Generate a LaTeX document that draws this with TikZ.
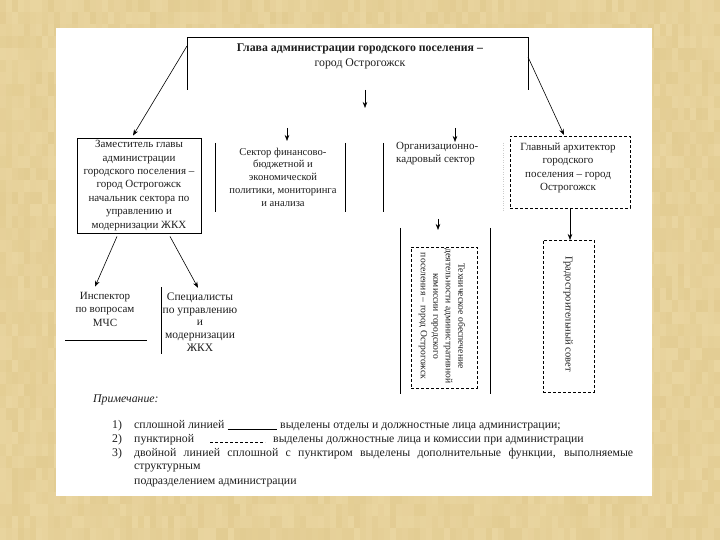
\documentclass[tikz,border=0pt]{standalone}
\usepackage{fontspec}
\setmainfont{Liberation Serif}
\usetikzlibrary{arrows.meta,calc}
\definecolor{bgtan}{RGB}{233,213,160}
\definecolor{bgdark}{RGB}{218,192,128}
\definecolor{inkc}{RGB}{30,30,30}
\tikzset{
  frame/.style={draw=black, line width=0.9pt},
  dframe/.style={draw=black, line width=0.7pt, dash pattern=on 3pt off 2pt},
  arr/.style={draw=black, line width=0.6pt, -{Stealth[length=6pt,width=4.5pt]}},
  lbl/.style={font=\fontsize{11}{13.5}\selectfont, align=center, inner sep=0pt, text=inkc},
  rlbl/.style={font=\fontsize{10}{12.5}\selectfont, align=center, inner sep=0pt, text=inkc, rotate=-90},
  note/.style={font=\fontsize{11.8}{13}\selectfont, inner sep=0pt, anchor=base west, text=inkc},
  emptybox/.style={inner sep=0pt, outer sep=0pt}
}
\begin{document}
\begin{tikzpicture}[x=1pt,y=-1pt]
\fill[bgtan] (0,0) rectangle (720,540);
\useasboundingbox (0,0) rectangle (720,540);
\pgfmathsetseed{11}
\foreach \i in {0,...,119}{
  \foreach \j in {0,...,44}{
    \pgfmathsetmacro\rr{int(rnd*45)}
    \fill[bgdark!\rr!bgtan] (\i*6,\j*12) rectangle ++(6,12);
  }
}
\fill[white] (56,28) rectangle (652,496);

% head
\node[emptybox, minimum width=341pt, minimum height=53pt] (head) at (357.5,63.5) {};
\draw[frame] (head.south west) -- (head.north west) -- (head.north east) -- (head.south east);
\node[lbl, font=\fontsize{11.8}{15}\selectfont] (headtxt) at (360,56) {\textbf{Глава администрации городского поселения –}\\город Острогожск};
\coordinate (hsplit) at (365,108);
\draw[arr] (head.south -| hsplit) -- (hsplit);

% deputy
\node[frame, lbl, font=\fontsize{11}{13.4}\selectfont, minimum width=124pt, minimum height=95pt] (dep) at (139,185.5)
  {Заместитель главы\\администрации\\городского поселения –\\город Острогожск\\начальник сектора по\\управлению и\\модернизации ЖКХ};

% sector
\node[emptybox, minimum width=130pt, minimum height=69pt] (sec) at (280,177.5) {};
\draw[frame] (sec.north west) -- (sec.south west);
\draw[frame] (sec.north east) -- (sec.south east);
\node[lbl, font=\fontsize{10.6}{12.8}\selectfont] (sectxt) at (283,177) {Сектор финансово-\\бюджетной и\\экономической\\политики, мониторинга\\и анализа};
\coordinate (secin) at (287,128);
\draw[arr] (secin) -- ($(secin |- sec.north)+(0,-2)$);

% org
\node[emptybox, minimum width=120pt, minimum height=69pt] (org) at (443,177.5) {};
\draw[frame] (org.north west) -- (org.south west);
\draw[black!20, dotted] (org.north east) -- (org.south east);
\node[lbl, align=left, anchor=north west] (orgtxt) at (396,142) {Организационно-\\кадровый сектор};
\coordinate (orgin) at (455,128);
\draw[arr] (orgin) -- ($(orgin |- org.north)+(0,-1)$);

% architect
\node[dframe, emptybox, minimum width=120pt, minimum height=72pt] (arch) at (570,172) {};
\node[lbl] (archtxt) at (568,168) {Главный архитектор\\городского\\поселения – город\\Острогожск};

% arrows from head
\draw[arr] ($(head.north west)+(0,9)$) -- ($(dep.north)+(-6,-2)$);
\draw[arr] ($(head.north east)+(0,20)$) -- ($(arch.north)+(-6,-1)$);

% town planning council
\node[dframe, emptybox, minimum width=51pt, minimum height=152pt] (gs) at (568.5,316) {};
\node[rlbl, font=\fontsize{10.5}{12.5}\selectfont] (gstxt) at (568,314) {Градостроительный совет};
\draw[arr] (arch.south) -- (arch.south |- gs.north);

% middle double
\node[emptybox, minimum width=90pt, minimum height=166pt] (mid) at (445,311) {};
\draw[frame] (mid.north west) -- (mid.south west);
\draw[frame] (mid.north east) -- (mid.south east);
\node[dframe, emptybox, minimum width=66pt, minimum height=141pt] (midin) at (444,317.5) {};
\node[rlbl, font=\fontsize{9.6}{12.5}\selectfont] (midtxt) at (442,316) {Техническое обеспечение\\деятельности административной\\комиссии городского\\поселения – город Острогожск};
\coordinate (midin0) at (438,219);
\draw[arr] (midin0) -- ($(midin0 |- mid.north)+(0,2)$);

% inspector
\node[emptybox, minimum width=82pt, minimum height=44pt] (inspbox) at (106,318) {};
\draw[line width=0.9pt] (inspbox.south west) -- (inspbox.south east);
\node[lbl] (insp) at (105,309) {Инспектор\\по вопросам\\МЧС};

% specialists
\node[emptybox, minimum width=80pt, minimum height=67pt] (spec) at (201,320.5) {};
\draw[frame] (spec.north west) -- (spec.south west);
\node[lbl, font=\fontsize{11.5}{12.6}\selectfont] (spectxt) at (200,322) {Специалисты\\по управлению\\и\\модернизации\\ЖКХ};

\draw[arr] ($(dep.south)+(-22,3)$) -- ($(insp.north)+(-10,-5)$);
\draw[arr] ($(dep.south)+(31,3)$) -- ($(spectxt.north)+(-2,-5)$);

% notes
\node[note, font=\fontsize{11.8}{13}\itshape] (n0) at (93,402) {Примечание:};
\node[note] (n1) at (112,428) {1)};
\node[note] (n1a) at (134,428) {сплошной линией};
\node[note] (n1b) at (280,428) {выделены отделы и должностные лица администрации;};
\draw[line width=0.6pt] ($(n1a.base east)+(3,1)$) -- ($(n1b.base west)+(-3,1)$);
\node[note] (n2) at (112,442) {2)};
\node[note] (n2a) at (134,442) {пунктирной};
\node[note] (n2b) at (273,442) {выделены должностные лица и комиссии при администрации};
\draw[line width=0.6pt, dash pattern=on 3pt off 2pt] (210,442) -- (265,442);
\node[note] (n3) at (112,456) {3)};
\node[note] (n3a) at (134,456) {\makebox[499pt][s]{двойной линией сплошной с пунктиром выделены дополнительные функции, выполняемые}};
\node[note] (n4) at (134,469) {структурным};
\node[note] (n5) at (134,484) {подразделением администрации};
\end{tikzpicture}
\end{document}
